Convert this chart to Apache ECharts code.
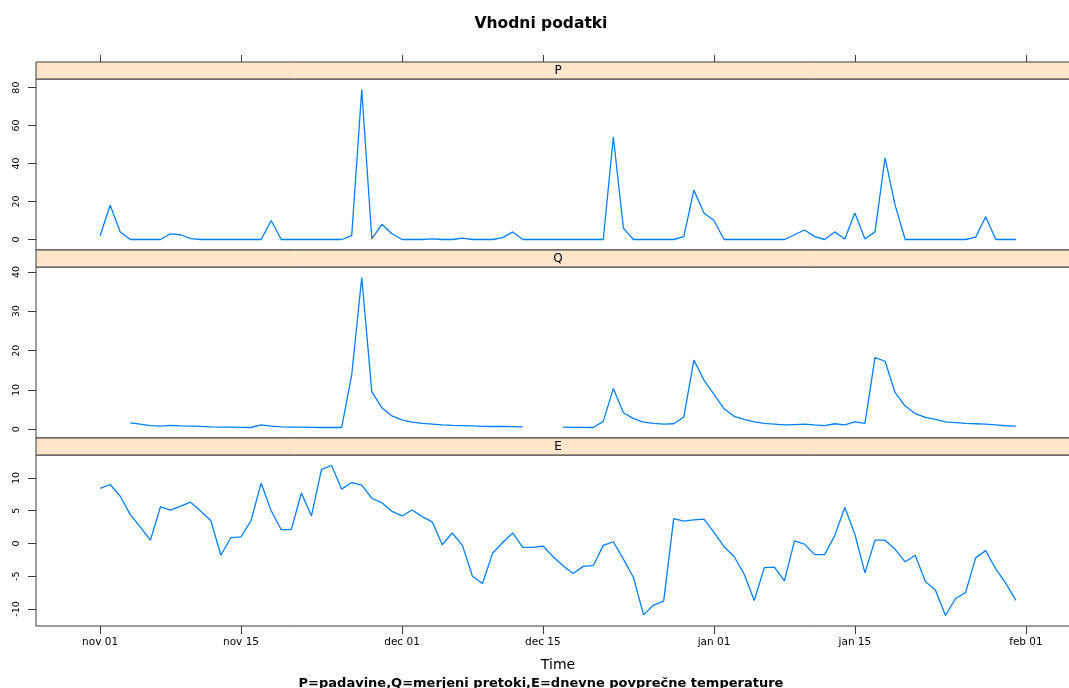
<!DOCTYPE html>
<html>
<head>
<meta charset="utf-8">
<title>Vhodni podatki</title>
<script src="https://cdn.jsdelivr.net/npm/echarts@6/dist/echarts.min.js"></script>
<style>
  html, body { margin: 0; padding: 0; background: #ffffff; }
  #chart { width: 1069px; height: 688px; }
</style>
</head>
<body>
<div id="chart"></div>
<script>
// Daily series, index 0 = nov 01, index 91 = jan 31
const precipP = [
  2, 18, 4, 0, 0, 0, 0, 3, 2.5, 0.5,
  0, 0, 0, 0, 0, 0, 0, 10, 0, 0,
  0, 0, 0, 0, 0, 2, 79, 0.3, 8, 3,
  0, 0, 0, 0.3, 0, 0, 0.7, 0, 0, 0,
  1, 4, 0, 0, 0, 0, 0, 0, 0, 0,
  0, 54, 6, 0, 0, 0, 0, 0, 1.5, 26,
  14, 10, 0, 0, 0, 0, 0, 0, 0, 2.5,
  5, 1.5, 0, 4, 0.3, 14, 0.3, 4, 43, 18,
  0, 0, 0, 0, 0, 0, 0, 1.2, 12, 0,
  0, 0
];

const flowQ = [
  null, null, null, 1.6, 1.3, 0.95, 0.8, 1.0, 0.85, 0.8,
  0.75, 0.6, 0.55, 0.55, 0.5, 0.45, 1.1, 0.8, 0.6, 0.55,
  0.55, 0.5, 0.45, 0.45, 0.45, 13.8, 38.6, 9.5, 5.5, 3.4,
  2.4, 1.8, 1.5, 1.3, 1.1, 1.0, 0.95, 0.85, 0.75, 0.7,
  0.7, 0.65, 0.6, null, null, null, 0.55, 0.5, 0.5, 0.45,
  2.0, 10.4, 4.2, 2.7, 1.8, 1.5, 1.3, 1.4, 3.1, 17.6,
  12.5, 8.9, 5.2, 3.3, 2.5, 1.9, 1.5, 1.3, 1.1, 1.2,
  1.3, 1.1, 0.95, 1.4, 1.1, 1.9, 1.5, 18.2, 17.3, 9.3,
  5.9, 4.0, 3.0, 2.5, 1.9, 1.7, 1.5, 1.4, 1.3, 1.1,
  0.9, 0.8
];

const tempE = [
  8.4, 9.0, 7.2, 4.4, 2.5, 0.5, 5.6, 5.1, 5.7, 6.3,
  4.9, 3.5, -1.8, 0.9, 1.0, 3.5, 9.2, 5.0, 2.1, 2.1,
  7.7, 4.2, 11.3, 11.9, 8.3, 9.3, 8.9, 6.9, 6.2, 4.9,
  4.2, 5.1, 4.1, 3.3, -0.2, 1.6, -0.3, -5.0, -6.1, -1.5,
  0.15, 1.6, -0.6, -0.6, -0.4, -2.0, -3.4, -4.6, -3.5, -3.4,
  -0.3, 0.26, -2.4, -5.2, -10.9, -9.4, -8.8, 3.8, 3.4, 3.6,
  3.7, 1.7, -0.5, -2.0, -4.7, -8.7, -3.7, -3.6, -5.7, 0.4,
  -0.1, -1.7, -1.7, 1.2, 5.5, 1.4, -4.5, 0.5, 0.5, -0.9,
  -2.8, -1.8, -5.8, -7.1, -11.0, -8.4, -7.5, -2.2, -1.1, -3.9,
  -6.1, -8.7
];

// Date axis: tick positions (days after nov 01) and their labels
const xTickDays = [0, 14, 30, 44, 61, 75, 92];
const xTickLabels = ['nov 01', 'nov 15', 'dec 01', 'dec 15', 'jan 01', 'jan 15', 'feb 01'];

// Panel names and value-axis ticks
const panelNames = ['P', 'Q', 'E'];
const yTicksP = [0, 20, 40, 60, 80];
const yTicksQ = [0, 10, 20, 30, 40];
const yTicksE = [-10, -5, 0, 5, 10];

const titleText = 'Vhodni podatki';
const xAxisName = 'Time';
const subText = 'P=padavine,Q=merjeni pretoki,E=dnevne povprečne temperature';

// ---------------------------------------------------------------------------
const FONT = '"DejaVu Sans", "Liberation Sans", Arial, sans-serif';
const LINE_BLUE = '#0080ff';
const FRAME = '#3a3a3a';
const STRIP_BG = '#ffe5cc';

const PAD = 0.07;          // axis padding as a share of the data range
const PLOT_LEFT = 36;
const PLOT_RIGHT = -11;    // the panels run slightly past the right edge
const PLOT_WIDTH = 1044;
const STRIP_H = 17;
const PANEL_H = 171;
const TOP0 = 62;

const nDays = precipP.length;
const xMin = -PAD * (nDays - 1);
const xMax = (nDays - 1) * (1 + PAD);

function paddedMin(v) { return v.min - PAD * (v.max - v.min); }
function paddedMax(v) { return v.max + PAD * (v.max - v.min); }

function toPairs(arr) {
  return arr.map((v, i) => [i, v == null ? '-' : v]);
}

const seriesData = [precipP, flowQ, tempE];
const yTickSets = [yTicksP, yTicksQ, yTicksE];

const grids = [];
const xAxes = [];
const yAxes = [];
const series = [];
const graphics = [];

for (let k = 0; k < 3; k++) {
  const stripTop = TOP0 + k * (STRIP_H + PANEL_H);
  const panelTop = stripTop + STRIP_H;

  grids.push({
    left: PLOT_LEFT,
    right: PLOT_RIGHT,
    top: panelTop,
    height: PANEL_H,
    outerBoundsMode: 'none',
    containLabel: false,
    show: true,
    borderColor: FRAME,
    borderWidth: 1,
    backgroundColor: 'transparent'
  });

  const isBottom = k === 2;
  xAxes.push({
    type: 'value',
    gridIndex: k,
    min: xMin,
    max: xMax,
    position: 'bottom',
    axisLine: { show: false, onZero: false },
    splitLine: { show: false },
    axisTick: {
      show: isBottom,
      length: 8,
      customValues: xTickDays,
      lineStyle: { color: FRAME, width: 1 }
    },
    axisLabel: {
      show: isBottom,
      customValues: xTickDays,
      margin: 11,
      fontFamily: FONT,
      fontSize: 10.5,
      color: '#000',
      formatter: v => xTickLabels[xTickDays.indexOf(v)]
    }
  });

  yAxes.push({
    type: 'value',
    gridIndex: k,
    min: paddedMin,
    max: paddedMax,
    position: 'left',
    axisLine: { show: false, onZero: false },
    splitLine: { show: false },
    axisTick: {
      show: true,
      length: 8,
      customValues: yTickSets[k],
      lineStyle: { color: FRAME, width: 1 }
    },
    axisLabel: {
      customValues: yTickSets[k],
      rotate: 90,
      margin: 14,
      fontFamily: FONT,
      fontSize: 9.5,
      color: '#000'
    }
  });

  series.push({
    type: 'line',
    name: panelNames[k],
    xAxisIndex: k,
    yAxisIndex: k,
    data: toPairs(seriesData[k]),
    showSymbol: false,
    connectNulls: false,
    lineStyle: { color: LINE_BLUE, width: 1.3 },
    itemStyle: { color: LINE_BLUE },
    animation: false
  });

  // panel strip with its name
  graphics.push({
    type: 'rect',
    shape: { x: PLOT_LEFT, y: stripTop, width: PLOT_WIDTH, height: STRIP_H },
    style: { fill: STRIP_BG, stroke: FRAME, lineWidth: 1 },
    z: 10
  });
  graphics.push({
    type: 'text',
    x: PLOT_LEFT + PLOT_WIDTH / 2,
    y: stripTop + STRIP_H / 2 + 0.5,
    style: {
      text: panelNames[k],
      fill: '#000',
      font: '12px ' + FONT,
      textAlign: 'center',
      textVerticalAlign: 'middle'
    },
    z: 11
  });
}

// date ticks above the top strip
xAxes.push({
  type: 'value',
  gridIndex: 0,
  min: xMin,
  max: xMax,
  position: 'top',
  offset: STRIP_H,
  axisLine: { show: false, onZero: false },
  splitLine: { show: false },
  axisLabel: { show: false },
  axisTick: {
    show: true,
    length: 7,
    customValues: xTickDays,
    lineStyle: { color: FRAME, width: 1 }
  }
});

const chart = echarts.init(document.getElementById('chart'), null, { renderer: 'canvas' });
chart.setOption({
  backgroundColor: '#ffffff',
  animation: false,
  title: [
    {
      text: titleText,
      left: 536,
      top: 11,
      textAlign: 'center',
      textStyle: { fontFamily: FONT, fontSize: 15.5, fontWeight: 'bold', color: '#000' }
    },
    {
      text: xAxisName,
      left: 553,
      top: 653,
      textAlign: 'center',
      textStyle: { fontFamily: FONT, fontSize: 14, fontWeight: 'normal', color: '#000' }
    },
    {
      text: subText,
      left: 536,
      top: 672,
      textAlign: 'center',
      textStyle: { fontFamily: FONT, fontSize: 13, fontWeight: 'bold', color: '#000' }
    }
  ],
  grid: grids,
  xAxis: xAxes,
  yAxis: yAxes,
  series: series,
  graphic: graphics
});
</script>
</body>
</html>
